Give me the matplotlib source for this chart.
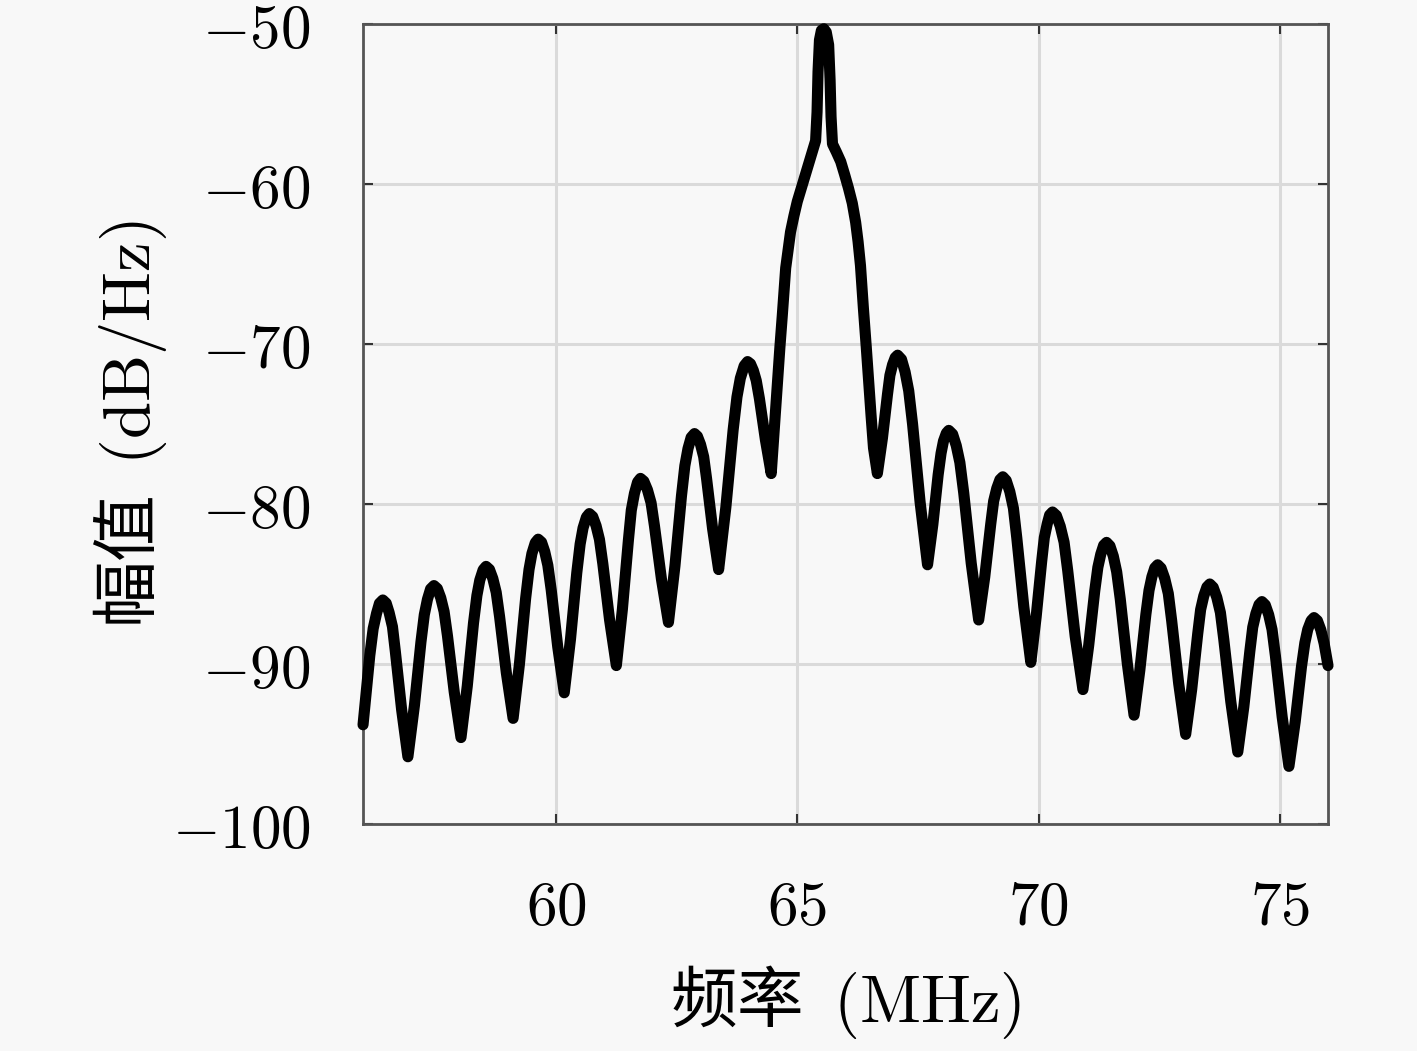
import numpy as np
import matplotlib
matplotlib.use("Agg")
import matplotlib.pyplot as plt

# Frecuencia (MHz) y amplitud (dB/Hz)
freq = [
    56.00, 56.14, 56.21, 56.28, 56.34, 56.41,
    56.48, 56.54, 56.61, 56.67, 56.80, 56.93,
    57.065, 57.20, 57.27, 57.335, 57.40, 57.47,
    57.54, 57.61, 57.68, 57.75, 57.89, 58.03,
    58.16, 58.29, 58.36, 58.42, 58.49, 58.55,
    58.62, 58.69, 58.76, 58.83, 58.97, 59.11,
    59.24, 59.37, 59.44, 59.50, 59.57, 59.63,
    59.70, 59.765, 59.83, 59.90, 60.035, 60.17,
    60.30, 60.43, 60.50, 60.56, 60.63, 60.69,
    60.76, 60.83, 60.90, 60.97, 61.11, 61.25,
    61.375, 61.50, 61.56, 61.625, 61.69, 61.75,
    61.82, 61.895, 61.97, 62.04, 62.185, 62.33,
    62.465, 62.60, 62.67, 62.735, 62.80, 62.87,
    62.93, 62.995, 63.06, 63.12, 63.245, 63.37,
    63.52, 63.67, 63.75, 63.82, 63.90, 63.97,
    64.03, 64.09, 64.15, 64.215, 64.34, 64.46,
    64.59, 64.64, 64.69, 64.76, 64.86, 64.93, 65.00, 65.09,
    65.17, 65.24, 65.31, 65.38, 65.41, 65.43, 65.46, 65.50,
    65.55, 65.60, 65.65, 65.68, 65.70, 65.73, 65.81, 65.90,
    65.98, 66.06, 66.14, 66.21, 66.26, 66.31, 66.37, 66.43,
    66.48, 66.53, 66.58, 66.66,
    66.765, 66.87, 66.92, 66.975, 67.03, 67.08,
    67.16, 67.235, 67.31, 67.39, 67.545, 67.70,
    67.81, 67.92, 67.98, 68.03, 68.09, 68.14,
    68.22, 68.295, 68.37, 68.45, 68.605, 68.76,
    68.885, 69.01, 69.07, 69.135, 69.20, 69.26,
    69.33, 69.405, 69.48, 69.55, 69.695, 69.84,
    69.95, 70.065, 70.12, 70.18, 70.23, 70.29,
    70.37, 70.45, 70.53, 70.605, 70.76, 70.92,
    71.04, 71.165, 71.23, 71.29, 71.35, 71.41,
    71.48, 71.55, 71.62, 71.695, 71.84, 71.98,
    72.10, 72.225, 72.29, 72.35, 72.41, 72.47,
    72.54, 72.615, 72.69, 72.76, 72.905, 73.05,
    73.175, 73.30, 73.36, 73.425, 73.49, 73.55,
    73.62, 73.695, 73.77, 73.84, 73.985, 74.13,
    74.255, 74.38, 74.44, 74.505, 74.57, 74.63,
    74.70, 74.77, 74.84, 74.91, 75.05, 75.19,
    75.32, 75.45, 75.52, 75.58, 75.65, 75.71,
    75.78, 75.85, 75.92, 76.00,
]
amp = [
    -93.8, -89.47, -87.79, -86.84, -86.21, -86.0,
    -86.2, -86.78, -87.67, -89.23, -92.86, -95.8,
    -92.59, -88.63, -86.92, -85.96, -85.31, -85.1,
    -85.29, -85.86, -86.72, -88.24, -91.75, -94.6,
    -91.39, -87.43, -85.72, -84.76, -84.11, -83.9,
    -84.09, -84.66, -85.52, -87.04, -90.55, -93.4,
    -90.04, -85.9, -84.1, -83.1, -82.42, -82.2,
    -82.39, -82.97, -83.83, -85.37, -88.92, -91.8,
    -88.44, -84.3, -82.5, -81.5, -80.82, -80.6,
    -80.79, -81.36, -82.22, -83.74, -87.25, -90.1,
    -86.59, -82.26, -80.39, -79.34, -78.63, -78.4,
    -78.58, -79.12, -79.93, -81.37, -84.7, -87.4,
    -83.86, -79.49, -77.61, -76.54, -75.84, -75.6,
    -75.77, -76.28, -77.05, -78.41, -81.55, -84.1,
    -80.2, -75.39, -73.31, -72.14, -71.36, -71.1,
    -71.24, -71.66, -72.29, -73.41, -76.0, -78.1,
    -72.4, -70.2, -68.2, -65.25, -63.0, -62.0, -61.1, -60.2,
    -59.4, -58.7, -58.0, -57.3, -55.5, -53.0, -51.0, -50.4,
    -50.3, -50.5, -51.3, -53.5, -55.8, -57.5, -58.0, -58.6,
    -59.4, -60.25, -61.2, -62.4, -63.6, -65.1, -67.75, -70.2,
    -72.4, -74.5, -76.5, -78.1,
    -75.88, -73.14, -71.96, -71.29, -70.85, -70.7,
    -70.96, -71.75, -72.93, -75.02, -79.87, -83.8,
    -81.28, -78.17, -76.83, -76.07, -75.57, -75.4,
    -75.64, -76.35, -77.41, -79.31, -83.7, -87.25,
    -84.57, -81.25, -79.82, -79.02, -78.48, -78.3,
    -78.53, -79.23, -80.27, -82.13, -86.42, -89.9,
    -87.08, -83.6, -82.1, -81.25, -80.69, -80.5,
    -80.72, -81.39, -82.39, -84.16, -88.27, -91.6,
    -88.84, -85.44, -83.96, -83.14, -82.58, -82.4,
    -82.62, -83.26, -84.24, -85.96, -89.96, -93.2,
    -90.38, -86.9, -85.4, -84.55, -83.99, -83.8,
    -84.01, -84.65, -85.6, -87.3, -91.22, -94.4,
    -91.58, -88.1, -86.6, -85.75, -85.19, -85.0,
    -85.21, -85.84, -86.79, -88.47, -92.35, -95.5,
    -92.68, -89.2, -87.7, -86.85, -86.29, -86.1,
    -86.31, -86.92, -87.85, -89.5, -93.31, -96.4,
    -93.61, -90.17, -88.68, -87.84, -87.29, -87.1,
    -87.29, -87.86, -88.72, -90.1,
]

xticks = [60, 65, 70, 75]
yticks = [-100, -90, -80, -70, -60, -50]

plt.rcParams['font.family'] = ['Noto Sans CJK SC', 'DejaVu Sans']
plt.rcParams['mathtext.fontset'] = 'cm'

bg = '#f8f8f8'
fig = plt.figure(figsize=(14.17, 10.51), dpi=100, facecolor=bg)
ax = fig.add_axes([0.2562, 0.2160, 0.6810, 0.7612], facecolor=bg)

ax.plot(freq, amp, color='black', linewidth=8, solid_joinstyle='round',
        solid_capstyle='round', zorder=3, clip_on=False)

ax.set_xlim(56, 76)
ax.set_ylim(-100, -50)
ax.set_xticks(xticks)
ax.set_yticks(yticks)
ax.set_xticklabels([f'${v}$' for v in xticks])
ax.set_yticklabels([f'${v}$' for v in yticks])

ax.grid(True, color='#dadada', linewidth=2.2)
ax.set_axisbelow(True)
for s in ax.spines.values():
    s.set_color('#555555')
    s.set_linewidth(2)
ax.tick_params(direction='in', length=7, width=1.5, colors='#333333',
               top=True, right=True, labelsize=44, pad=38,
               labelcolor='black')

ax.set_xlabel('频率  $(\\mathrm{MHz})$', fontsize=48, labelpad=17)
ax.set_ylabel('幅值  $(\\mathrm{dB/Hz})$', fontsize=48, labelpad=2)

fig.savefig('out.png', dpi=100, facecolor=bg)
